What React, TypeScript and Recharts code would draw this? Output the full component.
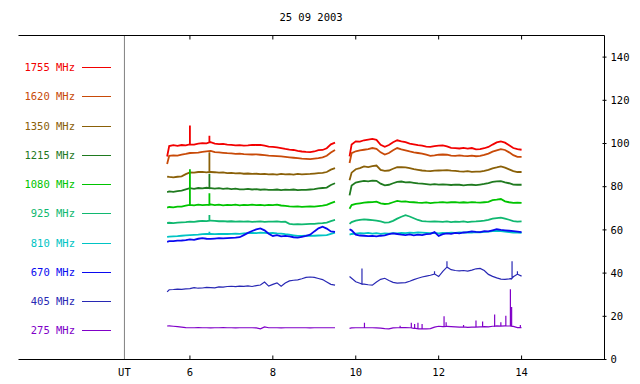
import {
  Legend,
  Line,
  LineChart,
  ReferenceLine,
  XAxis,
  YAxis,
} from "recharts";

const mono = "'DejaVu Sans Mono', 'Liberation Mono', monospace";

const title = "25 09 2003";
const freqLabels = [
  "1755 MHz",
  "1620 MHz",
  "1350 MHz",
  "1215 MHz",
  "1080 MHz",
  "925 MHz",
  "810 MHz",
  "670 MHz",
  "405 MHz",
  "275 MHz",
];
const freqColors = [
  "#f20000",
  "#c84a08",
  "#8a6008",
  "#1f7a1f",
  "#00c400",
  "#10b870",
  "#00c4c4",
  "#0a0af0",
  "#2828b4",
  "#8000c8",
];

const hourTicks = [6, 8, 10, 12, 14];
const valueTicks = [0, 20, 40, 60, 80, 100, 120, 140];
const hourDomain = [1.865, 16];
const valueDomain = [0, 150];
const separatorHour = 4.42; // "UT" divider between legend box and data
const gapHour = 9.7;
const tickLen = 1.85; // inward tick length, in value units (~4px)

const hoursLeft = [
  5.45, 5.5, 5.6, 5.7, 5.8, 5.9, 6.0, 6.1, 6.2, 6.3,
  6.4, 6.5, 6.6, 6.7, 6.8, 6.9, 7.0, 7.1, 7.2, 7.3,
  7.4, 7.5, 7.6, 7.7, 7.8, 7.9, 8.0, 8.1, 8.2, 8.3,
  8.4, 8.5, 8.6, 8.7, 8.8, 8.9, 9.0, 9.1, 9.2, 9.3,
  9.4, 9.5,
];
const hoursRight = [
  9.85, 9.9, 10.0, 10.1, 10.2, 10.3, 10.4, 10.5, 10.6, 10.7,
  10.8, 10.9, 11.0, 11.1, 11.2, 11.3, 11.4, 11.5, 11.6, 11.7,
  11.8, 11.9, 12.0, 12.1, 12.2, 12.3, 12.4, 12.5, 12.6, 12.7,
  12.8, 12.9, 13.0, 13.1, 13.2, 13.3, 13.4, 13.5, 13.6, 13.7,
  13.8, 13.9, 14.0,
];

// 1755 MHz
const f1755L = [
  94.0, 98.8, 99.2, 98.9, 99.3, 99.1, 99.6, 99.5, 99.9, 100.2,
  100.1, 100.6, 99.9, 99.7, 99.8, 99.5, 99.4, 99.1, 99.2, 99.0,
  99.1, 99.4, 99.3, 99.4, 99.0, 98.6, 98.4, 98.2, 97.9, 97.5,
  97.2, 97.0, 96.6, 96.3, 96.1, 96.0, 96.3, 96.9, 97.0, 97.8,
  99.6, 100.4,
];
const f1755R = [
  94.0, 99.5, 101.0, 100.9, 101.5, 101.8, 102.1, 101.7, 99.4, 98.5,
  99.3, 100.6, 101.5, 101.0, 100.6, 99.9, 99.6, 99.2, 99.0, 98.6,
  98.4, 98.8, 99.0, 99.1, 98.7, 98.0, 97.9, 97.7, 98.0, 97.6,
  97.9, 97.3, 97.4, 97.8, 98.4, 99.5, 100.5, 101.0, 100.4, 99.2,
  97.9, 97.4, 97.1,
];
const f1755Spikes = [
  [6.0, 99.6, 108.3],
  [6.47, 100.5, 103.6],
];

// 1620 MHz
const f1620L = [
  90.5, 94.3, 94.5, 94.4, 94.9, 95.2, 95.6, 95.7, 95.8, 96.1,
  96.4, 96.6, 96.0, 95.9, 95.7, 95.5, 95.4, 95.2, 95.3, 95.1,
  95.0, 94.9, 95.0, 94.8, 94.6, 94.4, 94.3, 94.2, 94.0, 93.8,
  93.6, 93.4, 93.2, 93.0, 92.9, 92.8, 93.0, 93.2, 93.6, 94.3,
  95.8, 97.0,
];
const f1620R = [
  91.0, 95.5, 96.4, 96.8, 97.1, 97.4, 97.9, 97.5, 95.9, 94.9,
  95.6, 96.9, 97.9, 97.3, 96.8, 96.3, 95.9, 95.6, 95.3, 94.8,
  94.3, 94.5, 94.8, 94.9, 94.8, 94.4, 94.3, 94.5, 94.3, 94.2,
  94.4, 94.1, 94.3, 94.7, 95.3, 96.2, 96.8, 97.4, 97.0, 95.9,
  94.6, 93.8, 93.8,
];
const f1620Spikes: number[][] = [];

// 1350 MHz
const f1350L = [
  84.7, 84.5, 84.3, 84.6, 84.8, 85.8, 86.6, 86.5, 86.8, 86.9,
  86.6, 86.8, 86.7, 86.5, 86.6, 86.3, 86.4, 86.2, 86.3, 86.0,
  86.1, 85.9, 86.0, 85.8, 85.9, 85.7, 85.8, 85.6, 85.9, 85.7,
  85.8, 85.6, 85.9, 85.7, 85.8, 85.9, 86.1, 86.3, 86.4, 86.8,
  87.9, 88.6,
];
const f1350R = [
  83.0, 86.5, 88.1, 88.6, 89.4, 89.1, 89.5, 89.8, 87.8, 87.3,
  87.5, 88.3, 89.0, 89.1, 88.9, 88.6, 88.1, 87.8, 87.5, 87.3,
  87.2, 87.4, 87.5, 87.6, 87.7, 87.4, 87.3, 87.1, 87.0, 87.2,
  86.9, 87.0, 87.0, 87.3, 87.8, 88.5, 88.9, 89.4, 88.8, 88.0,
  87.2, 86.8, 86.8,
];
const f1350Spikes = [[6.47, 86.8, 96.0]];

// 1215 MHz
const f1215L = [
  77.5, 77.8, 77.6, 78.0, 78.2, 78.8, 79.3, 79.0, 79.4, 79.2,
  79.5, 79.3, 79.1, 79.3, 79.0, 79.2, 78.9, 79.1, 78.8, 78.8,
  79.0, 78.7, 78.9, 78.6, 78.8, 78.5, 78.5, 78.7, 78.4, 78.6,
  78.5, 78.7, 78.4, 78.5, 78.5, 78.7, 78.9, 79.2, 79.4, 79.6,
  80.8, 81.6,
];
const f1215R = [
  76.0, 80.5, 81.9, 82.3, 82.7, 82.5, 82.8, 82.7, 81.4, 80.6,
  80.9, 81.6, 82.2, 82.4, 82.0, 82.1, 81.8, 81.5, 81.4, 81.2,
  81.0, 81.2, 81.0, 81.1, 81.0, 80.8, 81.0, 80.9, 80.6, 80.8,
  80.9, 80.7, 81.0, 81.3, 81.7, 82.2, 82.5, 82.6, 82.0, 81.6,
  81.0, 80.9, 80.9,
];
const f1215Spikes = [[6.47, 79.3, 86.0]];

// 1080 MHz
const f1080L = [
  70.3, 70.6, 70.4, 70.8, 70.8, 71.2, 71.6, 71.4, 71.7, 71.5,
  71.6, 71.8, 71.5, 71.7, 71.4, 71.6, 71.5, 71.7, 71.4, 71.6,
  71.5, 71.7, 71.5, 71.6, 71.4, 71.6, 71.5, 71.7, 71.3, 71.1,
  70.9, 70.8, 70.9, 70.7, 70.8, 70.9, 70.8, 71.0, 71.2, 71.6,
  72.4, 73.1,
];
const f1080R = [
  69.8, 71.5, 72.0, 72.3, 72.6, 72.8, 72.9, 73.1, 72.3, 72.0,
  72.2, 72.8, 73.4, 73.1, 73.2, 72.9, 72.8, 72.6, 72.5, 72.7,
  72.4, 72.6, 72.7, 72.9, 72.6, 72.8, 72.9, 72.6, 72.8, 72.6,
  72.9, 72.7, 72.6, 72.8, 73.0, 73.8, 74.0, 74.3, 73.2, 72.8,
  72.5, 72.6, 72.5,
];
const f1080Spikes = [
  [6.0, 71.6, 88.1],
  [6.47, 71.6, 77.0],
];

// 925 MHz
const f925L = [
  63.2, 63.3, 63.1, 63.4, 63.5, 63.6, 63.8, 63.7, 64.0, 64.2,
  64.1, 64.3, 64.2, 64.0, 64.1, 63.9, 64.0, 63.8, 63.9, 63.8,
  63.9, 63.7, 63.8, 63.9, 63.7, 63.8, 63.8, 63.9, 63.7, 63.8,
  62.8, 62.6, 62.7, 62.6, 62.7, 62.8, 62.8, 63.0, 63.1, 63.4,
  64.1, 64.6,
];
const f925R = [
  62.8, 63.6, 64.3, 64.6, 64.9, 64.7, 64.5, 64.3, 63.9, 63.4,
  63.5, 64.2, 65.2, 66.1, 66.8, 66.2, 65.4, 64.6, 64.1, 63.9,
  63.8, 63.9, 63.8, 63.7, 63.9, 63.6, 63.8, 63.7, 63.9, 63.6,
  63.8, 63.9, 64.1, 64.3, 64.6, 65.2, 65.5, 65.7, 65.2, 64.7,
  64.1, 63.8, 63.9,
];
const f925Spikes = [[6.47, 64.3, 66.9]];

// 810 MHz
const f810L = [
  56.8, 56.9, 57.0, 57.1, 57.3, 57.5, 57.6, 57.7, 57.8, 58.0,
  58.1, 58.1, 58.0, 58.1, 58.2, 58.1, 58.2, 58.3, 58.2, 58.4,
  58.5, 58.6, 58.5, 58.7, 58.6, 58.5, 58.6, 58.4, 58.3, 58.0,
  57.8, 57.5, 57.2, 57.2, 57.3, 57.2, 57.3, 57.4, 57.5, 57.6,
  58.2, 58.7,
];
const f810R = [
  57.8, 58.1, 58.3, 58.5, 58.4, 58.6, 58.3, 58.5, 58.2, 58.4,
  58.3, 58.5, 58.4, 58.6, 58.5, 58.7, 58.6, 58.8, 58.7, 58.6,
  58.5, 58.6, 58.4, 58.6, 58.5, 58.7, 58.6, 58.8, 58.7, 58.9,
  58.8, 59.0, 58.9, 59.1, 59.2, 59.4, 59.6, 59.4, 59.2, 59.0,
  58.8, 58.7, 58.6,
];
const f810Spikes = [[6.47, 58.1, 59.2]];

// 670 MHz
const f670L = [
  54.5, 54.8, 54.8, 55.0, 55.1, 55.3, 55.6, 55.4, 55.9, 56.2,
  55.9, 55.8, 56.0, 56.2, 56.1, 56.2, 56.3, 56.4, 56.6, 57.6,
  58.6, 59.5, 60.2, 60.7, 59.8, 58.2, 57.2, 57.6, 57.0, 57.2,
  57.0, 56.6, 56.4, 56.8, 57.2, 57.8, 59.3, 60.7, 61.5, 60.6,
  59.3, 59.1,
];
const f670R = [
  60.3, 59.8, 57.8, 57.4, 57.3, 57.1, 57.2, 57.0, 57.3, 57.5,
  58.0, 58.4, 58.1, 57.8, 57.6, 57.9, 57.5, 57.8, 57.6, 58.0,
  58.2, 59.0, 57.2, 58.0, 58.4, 58.2, 58.6, 58.4, 58.8, 59.0,
  59.3, 59.1, 59.0, 59.4, 59.3, 59.8, 60.3, 60.0, 59.8, 59.6,
  59.4, 59.2, 59.0,
];
const f670Spikes: number[][] = [];

// 405 MHz
const f405L = [
  31.3, 32.3, 32.4, 32.6, 32.5, 32.7, 32.8, 33.3, 33.0, 33.1,
  33.4, 33.3, 33.2, 33.6, 33.5, 33.8, 33.9, 33.7, 34.0, 33.9,
  34.1, 33.8, 34.2, 34.5, 35.9, 34.0, 34.8, 35.5, 33.9, 35.4,
  36.4, 36.7, 36.9, 37.4, 38.0, 38.2, 38.0, 37.5, 37.0, 35.9,
  34.8, 34.4,
];
const f405R = [
  38.4, 37.6, 36.0, 35.3, 34.9, 34.6, 34.4, 35.9, 37.1, 37.6,
  36.6, 35.7, 35.4, 35.5, 35.6, 36.2, 37.0, 37.6, 38.2, 38.6,
  39.0, 39.6, 38.4, 40.8, 42.8, 41.6, 41.2, 41.0, 41.2, 40.9,
  41.4, 42.0, 42.2, 41.2, 39.4, 38.5, 37.8, 37.2, 37.1, 37.3,
  38.3, 39.5, 38.6,
];
const f405Spikes = [
  [10.15, 34.9, 42.1],
  [11.9, 39.6, 40.9],
  [12.2, 42.8, 45.5],
  [13.77, 37.6, 45.5],
  [13.9, 39.5, 40.9],
];

// 275 MHz
const f275L = [
  15.5, 15.6, 15.4, 15.2, 15.0, 14.8, 14.7, 14.7, 14.8, 14.7,
  14.7, 14.6, 14.7, 14.7, 14.8, 14.7, 14.7, 14.6, 14.7, 14.7,
  14.7, 14.7, 14.6, 14.2, 15.1, 14.7, 14.7, 14.7, 14.6, 14.7,
  14.7, 14.7, 14.7, 14.7, 14.7, 14.6, 14.7, 14.7, 14.7, 14.7,
  14.7, 14.7,
];
const f275R = [
  14.4, 14.6, 14.7, 14.7, 14.7, 14.7, 14.7, 14.6, 14.5, 14.3,
  14.2, 14.6, 14.7, 14.8, 14.8, 14.7, 14.4, 14.2, 14.2, 14.2,
  14.3, 15.0, 15.4, 15.2, 15.3, 15.2, 15.1, 15.0, 15.1, 14.9,
  15.0, 15.0, 15.1, 15.2, 15.1, 15.4, 15.6, 15.5, 15.6, 15.5,
  15.3, 14.8, 14.7,
];
const f275Spikes = [
  [10.21, 14.7, 17.0],
  [11.07, 14.8, 15.6],
  [11.34, 14.7, 17.0],
  [11.42, 14.5, 16.4],
  [11.5, 14.2, 17.0],
  [11.6, 14.2, 16.4],
  [12.13, 15.2, 20.0],
  [12.18, 15.3, 17.3],
  [12.6, 15.1, 16.0],
  [12.9, 15.0, 18.1],
  [13.06, 15.1, 17.6],
  [13.35, 15.4, 20.8],
  [13.5, 15.5, 17.3],
  [13.62, 15.6, 20.2],
  [13.73, 15.5, 32.5],
  [13.76, 15.4, 24.3],
  [13.97, 14.8, 16.0],
];

type Pt = { t: number; v: number | null };

function buildSeries(left: number[], right: number[], spikes: number[][]): Pt[] {
  const pts: Pt[] = [];
  hoursLeft.forEach((t, i) => pts.push({ t, v: left[i] }));
  pts.push({ t: gapHour, v: null });
  hoursRight.forEach((t, i) => pts.push({ t, v: right[i] }));
  // a spike is drawn as a vertical up-and-down stroke at its own time
  spikes.forEach(([t, base, peak]) => {
    pts.push({ t, v: base }, { t, v: peak }, { t, v: base });
  });
  return pts
    .map((p, i) => ({ p, i }))
    .sort((a, b) => a.p.t - b.p.t || a.i - b.i)
    .map((x) => x.p);
}

const series = [
  buildSeries(f1755L, f1755R, f1755Spikes),
  buildSeries(f1620L, f1620R, f1620Spikes),
  buildSeries(f1350L, f1350R, f1350Spikes),
  buildSeries(f1215L, f1215R, f1215Spikes),
  buildSeries(f1080L, f1080R, f1080Spikes),
  buildSeries(f925L, f925R, f925Spikes),
  buildSeries(f810L, f810R, f810Spikes),
  buildSeries(f670L, f670R, f670Spikes),
  buildSeries(f405L, f405R, f405Spikes),
  buildSeries(f275L, f275R, f275Spikes),
];

const legendRow = 29.25;

function FreqLegend({ payload }: any) {
  const items = (payload ?? [])
    .filter((p: any) => freqLabels.includes(p.value))
    .sort((a: any, b: any) => freqLabels.indexOf(a.value) - freqLabels.indexOf(b.value));
  return (
    <div style={{ position: "relative", fontFamily: mono, fontSize: 10.5 }}>
      {items.map((p: any, i: number) => (
        <div
          key={p.value}
          style={{
            position: "absolute",
            left: 0,
            top: Math.round(i * legendRow),
            display: "flex",
            alignItems: "center",
            height: 14,
            lineHeight: "14px",
          }}
        >
          <span
            style={{ width: 75, textAlign: "right", color: p.color, whiteSpace: "pre" }}
          >
            {p.value}
          </span>
          <span
            style={{ marginLeft: 7, width: 29, height: 1, background: p.color }}
          />
        </div>
      ))}
    </div>
  );
}

const tickText = { fontFamily: mono, fontSize: 10.5, fill: "#000" };

function RightTick({ x, y, payload }: any) {
  return (
    <g>
      <line x1={x - 8} x2={x - 4} y1={y} y2={y} stroke="#000" strokeWidth={1} />
      <text x={x} y={y} dy="0.36em" textAnchor="start" {...tickText}>
        {payload.value}
      </text>
    </g>
  );
}

export default function App() {
  const [yMin, yMax] = valueDomain;
  return (
    <div
      style={{
        position: "absolute",
        left: 0,
        top: 0,
        width: 640,
        height: 384,
        background: "#fff",
      }}
    >
      <div
        style={{
          position: "absolute",
          left: 0,
          top: 11.3,
          width: 622,
          textAlign: "center",
          fontFamily: mono,
          fontSize: 10.5,
          lineHeight: "12px",
          color: "#000",
        }}
      >
        {title}
      </div>
      <LineChart
        width={640}
        height={384}
        margin={{ top: 35.5, right: 0, bottom: 0, left: 18.5 }}
      >
        <XAxis
          dataKey="t"
          type="number"
          domain={hourDomain}
          ticks={[separatorHour, ...hourTicks]}
          tickFormatter={(v: number) => (v === separatorHour ? "UT" : String(v))}
          interval={0}
          height={24.5}
          tickSize={0}
          tickMargin={9}
          tick={tickText}
          tickLine={false}
          axisLine={{ stroke: "#000" }}
          allowDataOverflow
        />
        <YAxis
          yAxisId="l"
          orientation="left"
          width={0}
          domain={valueDomain}
          tick={false}
          axisLine={{ stroke: "#000" }}
          allowDataOverflow
        />
        <YAxis
          yAxisId="r"
          orientation="right"
          width={35.5}
          domain={valueDomain}
          ticks={valueTicks}
          interval={0}
          tickSize={0}
          tickMargin={6}
          tick={RightTick}
          axisLine={{ stroke: "#000" }}
          allowDataOverflow
        />
        <ReferenceLine x={separatorHour} yAxisId="r" stroke="#808080" />
        <ReferenceLine y={yMax} yAxisId="r" stroke="#000" />
        {hourTicks.map((h) => (
          <ReferenceLine
            key={`b${h}`}
            yAxisId="r"
            segment={[
              { x: h, y: yMin },
              { x: h, y: yMin + tickLen },
            ]}
            stroke="#000"
          />
        ))}
        {hourTicks.map((h) => (
          <ReferenceLine
            key={`t${h}`}
            yAxisId="r"
            segment={[
              { x: h, y: yMax },
              { x: h, y: yMax - tickLen },
            ]}
            stroke="#000"
          />
        ))}
        <Legend
          layout="vertical"
          align="center"
          verticalAlign="middle"
          content={FreqLegend}
          wrapperStyle={{ left: 0, top: 60, width: 120 }}
        />
        {series.map((data, i) => (
          <Line
            key={freqLabels[i]}
            data={data}
            dataKey="v"
            name={freqLabels[i]}
            yAxisId="r"
            type="linear"
            stroke={freqColors[i]}
            strokeWidth={i < 8 ? 1.8 : 1.2}
            dot={false}
            connectNulls={false}
            isAnimationActive={false}
          />
        ))}
      </LineChart>
    </div>
  );
}
